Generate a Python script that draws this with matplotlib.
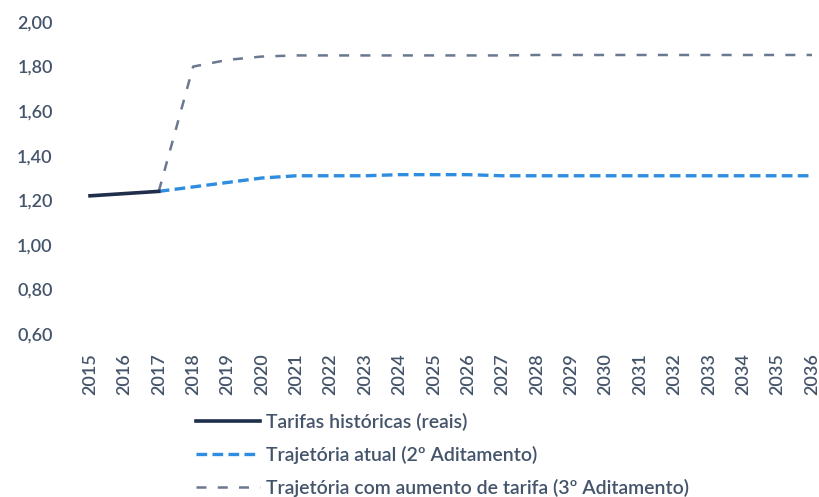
import matplotlib
matplotlib.use("Agg")
import matplotlib.pyplot as plt

years = list(range(2015, 2037))

hist_years = [2015, 2016, 2017]
hist_vals = [1.22, 1.23, 1.24]

atual_years = list(range(2017, 2037))
atual_vals = [1.24, 1.26, 1.28, 1.30, 1.31, 1.31, 1.31, 1.315, 1.315, 1.315,
              1.31, 1.31, 1.31, 1.31, 1.31, 1.31, 1.31, 1.31, 1.31, 1.31]

aumento_years = list(range(2017, 2037))
aumento_vals = [1.24, 1.80, 1.83, 1.845, 1.85, 1.85, 1.85, 1.85, 1.85, 1.85,
                1.85, 1.852, 1.852, 1.852, 1.852, 1.852, 1.852, 1.852, 1.852, 1.852]

yticks = [0.60, 0.80, 1.00, 1.20, 1.40, 1.60, 1.80, 2.00]

plt.rcParams['font.family'] = ['Lato', 'DejaVu Sans']
TICK_COLOR = '#44546A'

fig = plt.figure(figsize=(8.19, 4.97), dpi=100)
ax = fig.add_axes([75 / 819, 1 - 334 / 497, 744 / 819, 312 / 497])

ax.plot(atual_years, atual_vals, color='#2E8DE0', lw=2.4, dashes=(3.2, 1.6),
        label='Trajetória atual (2º Aditamento)', zorder=2)
ax.plot(aumento_years, aumento_vals, color='#6A7890', lw=1.8, dashes=(4, 4.5),
        label='Trajetória com aumento de tarifa (3º Aditamento)', zorder=3)
ax.plot(hist_years, hist_vals, color='#1F2E4A', lw=2.6,
        label='Tarifas históricas (reais)', zorder=4)

ax.set_xlim(2015 - 15 / 34.38, 2036 + 7 / 34.38)
ax.set_ylim(0.60, 2.00)
ax.set_yticks(yticks)
ax.set_yticklabels([f"{v:.2f}".replace('.', ',') for v in yticks])
ax.set_xticks(years)
ax.set_xticklabels([str(y) for y in years], rotation=90)
ax.tick_params(axis='both', length=0, colors=TICK_COLOR, labelsize=13)
ax.tick_params(axis='x', pad=14)
ax.tick_params(axis='y', pad=16)
for lbl in ax.get_xticklabels() + ax.get_yticklabels():
    lbl.set_fontweight('semibold')
for s in ax.spines.values():
    s.set_visible(False)

handles, labels = ax.get_legend_handles_labels()
order = [2, 0, 1]
leg = fig.legend([handles[i] for i in order], [labels[i] for i in order],
                 loc='upper left', bbox_to_anchor=(196 / 819, 1 - 413 / 497),
                 frameon=False, prop={'size': 14, 'weight': 'semibold'},
                 handlelength=3.3, handletextpad=0.3,
                 labelspacing=0.76, borderaxespad=0, borderpad=0)
for t in leg.get_texts():
    t.set_color(TICK_COLOR)

fig.savefig("out.png", dpi=100)
